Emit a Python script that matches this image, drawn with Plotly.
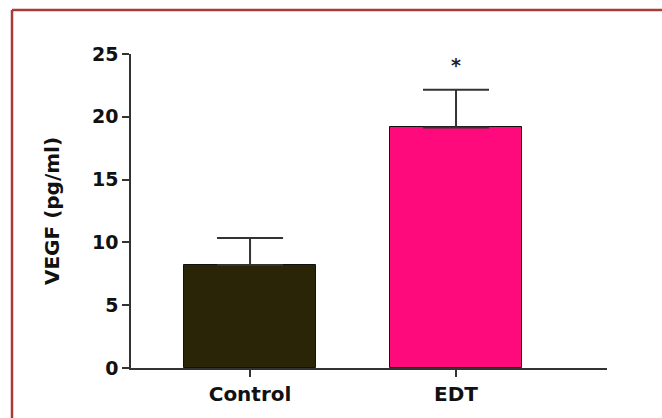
import plotly.graph_objects as go

categories = ["Control", "EDT"]
means = [8.2, 19.15]
sem = [2.15, 3.0]
significance = ["", "*"]
y_ticks = [0, 5, 10, 15, 20, 25]
bar_colors = ["#2b2508", "#ff0a7c"]

FONT = "DejaVu Sans"

fig = go.Figure()
fig.add_trace(go.Bar(
    x=[0, 1], y=means,
    marker=dict(color=bar_colors, line=dict(color="#111111", width=1)),
    width=0.645,
    error_y=dict(type="data", symmetric=False, array=sem, arrayminus=[0, 0],
                 color="#333333", thickness=2, width=33),
    showlegend=False,
))

for i, s in enumerate(significance):
    if s:
        fig.add_annotation(x=i, y=means[i] + sem[i], text=s, showarrow=False,
                           yshift=25, font=dict(size=19, color="#222", family=FONT, weight="bold"))

# frame: left and top edges (the rest lies outside the picture)
fig.add_shape(type="line", xref="paper", yref="paper", x0=-0.25, x1=-0.25, y0=-0.3, y1=1.14,
              line=dict(color="#a83a3a", width=2.5), layer="below")
fig.add_shape(type="line", xref="paper", yref="paper", x0=-0.25, x1=1.3, y0=1.14, y1=1.14,
              line=dict(color="#a83a3a", width=2.5), layer="below")

fig.update_layout(
    width=662, height=418,
    margin=dict(l=131, r=55, t=54, b=50),
    plot_bgcolor="white", paper_bgcolor="white",
    font=dict(family=FONT, color="#1a1a1a"),
    bargap=0,
)
fig.update_xaxes(
    range=[-0.578, 1.733], tickvals=[0, 1], ticktext=categories,
    showline=True, linecolor="#333", linewidth=1.5,
    ticks="outside", ticklen=7, tickcolor="#333", tickwidth=1.5,
    tickfont=dict(size=20, weight="bold", color="#111", family=FONT),
    showgrid=False, zeroline=False,
)
fig.update_yaxes(
    range=[0, 25], tickvals=y_ticks,
    showline=True, linecolor="#333", linewidth=1.5,
    ticks="outside", ticklen=7, tickcolor="#333", tickwidth=1.5,
    tickfont=dict(size=19, weight="bold", color="#111", family=FONT),
    showgrid=False, zeroline=False,
    title=dict(text="VEGF (pg/ml)", font=dict(size=20, weight="bold", color="#111", family=FONT), standoff=27),
)

fig.write_html("out.html", config={"displayModeBar": False},
               post_script="document.body.style.margin='0';document.body.style.overflow='hidden';")
